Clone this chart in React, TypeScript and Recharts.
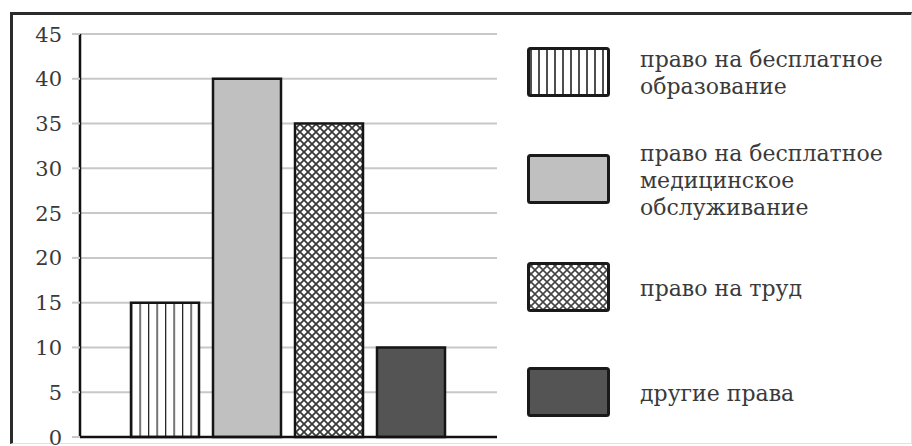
import React from 'react';
import { BarChart, Bar, XAxis, YAxis, CartesianGrid, Cell, Legend } from 'recharts';

const categories = [
  'право на бесплатное образование',
  'право на бесплатное медицинское обслуживание',
  'право на труд',
  'другие права',
];
const legendLines = [
  ['право на бесплатное', 'образование'],
  ['право на бесплатное', 'медицинское', 'обслуживание'],
  ['право на труд'],
  ['другие права'],
];
const values = [15, 40, 35, 10];
const yTicks = [0, 5, 10, 15, 20, 25, 30, 35, 40, 45];
const fills = ['url(#vstripes)', '#c0c0c0', 'url(#crosshatch)', '#545454'];
const legendFills = ['url(#lvstripes)', '#c0c0c0', 'url(#lcross)', '#545454'];

const data = categories.map((name, i) => ({ name, value: values[i] }));

const FONT = '"DejaVu Serif", "Liberation Serif", serif';

const Patterns = () => (
  <defs>
    <pattern id="vstripes" patternUnits="userSpaceOnUse" width="8.5" height="10" x="131" y="0">
      <rect width="8.5" height="10" fill="#fff" />
      <line x1="0.6" y1="0" x2="0.6" y2="10" stroke="#222" strokeWidth="1.3" />
    </pattern>
    <pattern id="crosshatch" patternUnits="userSpaceOnUse" width="8" height="8">
      <rect width="8" height="8" fill="#fff" />
      <path d="M-1,-1 L9,9 M9,-1 L-1,9" stroke="#3a3a3a" strokeWidth="1.8" />
    </pattern>
  </defs>
);

const YTick = (props: any) => {
  const { x, y, payload } = props;
  return (
    <text x={x} y={y} dy={7.5} textAnchor="end" fontFamily={FONT} fontSize={21} fill="#3a3a3a">
      {payload.value}
    </text>
  );
};

const LegendContent = () => (
  <div style={{ position: 'relative', width: 380, height: 380 }}>
    {categories.map((c, i) => {
      const top = [0, 107, 215, 320][i];
      const lines = legendLines[i];
      const lh = 27;
      const textTop = top + 26 - (lines.length * lh) / 2;
      return (
        <React.Fragment key={c}>
          <svg style={{ position: 'absolute', left: 0, top }} width={84} height={52}>
            <defs>
              <pattern id="lvstripes" patternUnits="userSpaceOnUse" width="8" height="10" x="3">
                <rect width="8" height="10" fill="#fff" />
                <line x1="1" y1="0" x2="1" y2="10" stroke="#222" strokeWidth="1.6" />
              </pattern>
              <pattern id="lcross" patternUnits="userSpaceOnUse" width="8" height="8">
                <rect width="8" height="8" fill="#fff" />
                <path d="M-1,-1 L9,9 M9,-1 L-1,9" stroke="#444" strokeWidth="1.6" />
              </pattern>
            </defs>
            <rect x={1.5} y={1.5} width={80} height={47} fill={legendFills[i]} stroke="#1a1a1a" strokeWidth={3} rx={2} />
          </svg>
          <div style={{ position: 'absolute', left: 113, top: textTop, fontFamily: FONT, fontSize: 22, lineHeight: `${lh}px`, color: '#3a3a3a', whiteSpace: 'nowrap' }}>
            {lines.map((l) => (<div key={l}>{l}</div>))}
          </div>
        </React.Fragment>
      );
    })}
  </div>
);

export default function App() {
  return (
    <div style={{ position: 'absolute', left: 0, top: 0, width: 912, height: 446, background: '#fff', overflow: 'hidden' }}>
      <div style={{ position: 'absolute', left: 10, top: 12, width: 898, height: 428, borderTop: '3px solid #2b2b2b', borderLeft: '3px solid #2b2b2b', borderRight: '1px solid #e2e2e2', borderBottom: '1px solid #e2e2e2' }} />
      <div style={{ position: 'absolute', left: 0, top: 0 }}>
        <BarChart width={912} height={446} data={data} margin={{ top: 34, left: 10, right: 415, bottom: 8 }} barSize={68}>
          <Patterns />
          <CartesianGrid horizontal vertical={false} stroke="#c8c8c8" strokeWidth={2} />
          <XAxis dataKey="name" tick={false} tickLine={false} height={1} axisLine={{ stroke: '#111', strokeWidth: 2.5 }} padding={{ left: 44, right: 45 }} />
          <YAxis domain={[0, 45]} ticks={yTicks} interval={0} width={70} tickSize={8} tickMargin={10}
            tick={<YTick />} tickLine={{ stroke: '#c8c8c8', strokeWidth: 2 }} axisLine={{ stroke: '#111', strokeWidth: 2.5 }} />
          <Bar dataKey="value" isAnimationActive={false} stroke="#151515" strokeWidth={2.5}>
            {data.map((d, i) => (<Cell key={d.name} fill={fills[i]} />))}
          </Bar>
          <Legend layout="horizontal" verticalAlign="middle" align="center" content={<LegendContent />}
            wrapperStyle={{ position: 'absolute', left: 527, top: 47, width: 380, height: 380 }} />
        </BarChart>
      </div>
    </div>
  );
}
